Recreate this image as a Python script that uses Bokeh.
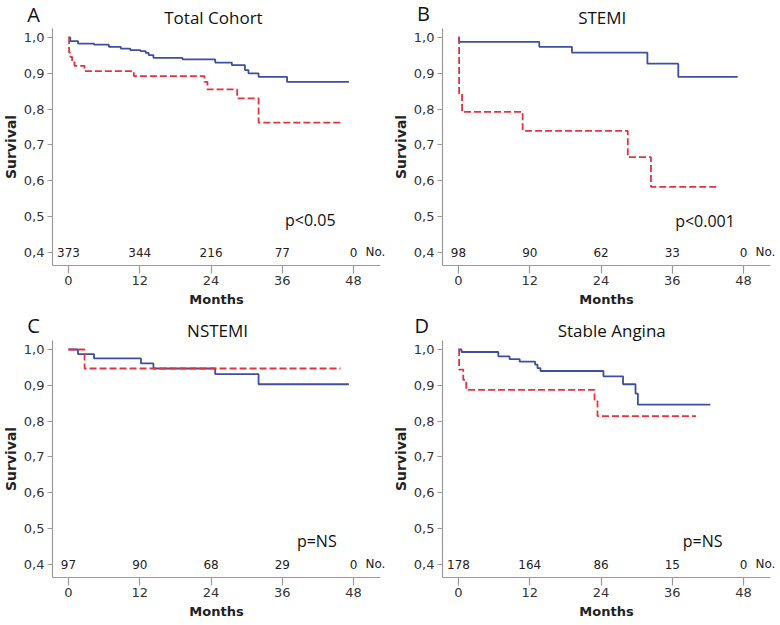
from bokeh.plotting import figure
from bokeh.layouts import gridplot
from bokeh.models import Label
from bokeh.core.properties import value
from bokeh.embed import file_html
from bokeh.resources import INLINE

# ---- data ----
month_ticks = [0, 12, 24, 36, 48]
month_tick_labels = ["0", "12", "24", "36", "48"]
surv_ticks = [0.4, 0.5, 0.6, 0.7, 0.8, 0.9, 1.0]
surv_tick_labels = ["0,4", "0,5", "0,6", "0,7", "0,8", "0,9", "1,0"]

# Panel A: Total Cohort
a_blue_t = [0, 0.3, 1.6, 4.3, 6.8, 8.8, 10.4, 12.1, 13.0, 13.5, 14.3, 19.2, 24.7, 27.5, 29.7, 30.3, 32.0, 36.8, 47.2]
a_blue_s = [1.0, 0.99, 0.983, 0.98, 0.974, 0.969, 0.965, 0.962, 0.957, 0.951, 0.943, 0.939, 0.93, 0.923, 0.909, 0.9, 0.89, 0.876, 0.876]
a_red_t = [0, 0.1, 0.3, 0.6, 1.0, 2.7, 11.0, 22.9, 23.4, 28.4, 32.0, 45.8]
a_red_s = [1.0, 0.958, 0.946, 0.933, 0.921, 0.906, 0.892, 0.876, 0.855, 0.83, 0.762, 0.762]
a_risk = [373, 344, 216, 77, 0]

# Panel B: STEMI
b_blue_t = [0, 0.1, 13.6, 19.1, 31.8, 37.0, 47.0]
b_blue_s = [1.0, 0.988, 0.974, 0.958, 0.927, 0.89, 0.89]
b_red_t = [0, 0.1, 0.6, 10.8, 28.5, 32.4, 43.6]
b_red_s = [1.0, 0.843, 0.792, 0.739, 0.666, 0.583, 0.583]
b_risk = [98, 90, 62, 33, 0]

# Panel C: NSTEMI
c_blue_t = [0, 1.6, 4.3, 12.2, 14.3, 24.7, 32.0, 47.2]
c_blue_s = [1.0, 0.987, 0.975, 0.961, 0.947, 0.931, 0.903, 0.903]
c_red_t = [0, 2.7, 45.8]
c_red_s = [1.0, 0.947, 0.947]
c_risk = [97, 90, 68, 29, 0]

# Panel D: Stable Angina
d_blue_t = [0, 0.5, 6.7, 8.6, 10.3, 12.9, 13.3, 13.8, 24.4, 27.7, 29.8, 30.2, 42.4]
d_blue_s = [1.0, 0.993, 0.981, 0.973, 0.966, 0.958, 0.948, 0.94, 0.925, 0.903, 0.877, 0.846, 0.846]
d_red_t = [0, 0.1, 0.8, 1.3, 22.9, 23.4, 40.0]
d_red_s = [1.0, 0.944, 0.915, 0.887, 0.86, 0.814, 0.814]
d_risk = [178, 164, 86, 15, 0]

BLUE = "#3E4FA3"
RED = "#E5323F"
AXIS = "#9a9a9a"
TXT = "#222222"

X_AXIS_AT = 0.364     # survival level where the months axis sits
Y_AXIS_AT = -2.7      # month where the survival axis sits
X_END = 52.5
Y_END = 1.025


def make_panel(letter, title, bt, bs, rt, rs, risk, ptext, px, py, tx, ty, lx, ly):
    p = figure(width=390, height=312, x_range=(-11.45, 54.21), y_range=(0.2318, 1.1034),
               output_backend="svg", toolbar_location=None, title=None,
               min_border_left=0, min_border_right=0, min_border_top=0, min_border_bottom=0)
    p.outline_line_color = None
    p.xgrid.grid_line_color = None
    p.ygrid.grid_line_color = None

    p.xaxis.ticker = month_ticks
    p.xaxis.major_label_overrides = dict(zip(month_ticks, month_tick_labels))
    p.yaxis.ticker = surv_ticks
    p.yaxis.major_label_overrides = dict(zip(surv_ticks, surv_tick_labels))
    p.xaxis.fixed_location = X_AXIS_AT
    p.yaxis.fixed_location = Y_AXIS_AT
    p.xaxis.bounds = (Y_AXIS_AT, X_END)
    p.yaxis.bounds = (X_AXIS_AT, Y_END)
    p.xaxis.axis_label = "Months"
    p.yaxis.axis_label = "Survival"
    for ax in (p.xaxis[0], p.yaxis[0]):
        ax.axis_line_color = AXIS
        ax.axis_line_width = 1.2
        ax.major_tick_line_color = AXIS
        ax.major_tick_line_width = 1.2
        ax.minor_tick_line_color = None
        ax.major_tick_in = 0
        ax.major_label_text_font = "DejaVu Sans"
        ax.major_label_text_font_size = "13px"
        ax.major_label_text_color = "#333333"
        ax.axis_label_text_font = "DejaVu Sans"
        ax.axis_label_text_font_style = "bold"
        ax.axis_label_text_color = TXT
    p.xaxis.axis_label_text_font_size = "13px"
    p.yaxis.axis_label_text_font_size = "14px"
    p.xaxis.major_tick_out = 8
    p.xaxis.major_label_standoff = 3
    p.xaxis.axis_label_standoff = 3
    p.yaxis.major_tick_out = 5
    p.yaxis.major_label_standoff = 3
    p.yaxis.axis_label_standoff = 2

    p.step(x=bt, y=bs, mode="after", line_color=BLUE, line_width=1.8)
    p.step(x=rt, y=rs, mode="after", line_color=RED, line_width=1.8, line_dash="7 3")

    p.text(x=month_ticks, y=[surv_ticks[0]] * len(month_ticks), text=[str(n) for n in risk],
           text_align="center", text_baseline="middle", text_font=value("DejaVu Sans"),
           text_font_size="12px", text_color=TXT)
    p.add_layout(Label(x=50.0, y=0.4, text="No.", text_align="left", text_baseline="middle",
                       text_font="DejaVu Sans", text_font_size="12px", text_color=TXT))
    p.add_layout(Label(x=px, y=py, text=ptext, text_align="center", text_baseline="middle",
                       text_font="Open Sans", text_font_size="16px", text_color="#111111"))
    p.add_layout(Label(x=tx, y=ty, text=title, text_align="center", text_baseline="middle",
                       text_font="Open Sans", text_font_size="17px", text_color="#111111"))
    p.add_layout(Label(x=lx, y=ly, text=letter, text_align="center", text_baseline="middle",
                       text_font="Open Sans", text_font_size="20px", text_color="#111111"))
    return p


pA = make_panel("A", "Total Cohort", a_blue_t, a_blue_s, a_red_t, a_red_s, a_risk,
                "p<0.05", 40.7, 0.489, 24.4, 1.0559, -5.9, 1.0642)
pB = make_panel("B", "STEMI", b_blue_t, b_blue_s, b_red_t, b_red_s, b_risk,
                "p<0.001", 41.5, 0.487, 24.2, 1.0559, -5.9, 1.0670)
pC = make_panel("C", "NSTEMI", c_blue_t, c_blue_s, c_red_t, c_red_s, c_risk,
                "p=NS", 41.8, 0.465, 25.1, 1.0531, -5.9, 1.0660)
pD = make_panel("D", "Stable Angina", d_blue_t, d_blue_s, d_red_t, d_red_s, d_risk,
                "p=NS", 41.1, 0.465, 25.8, 1.0531, -6.2, 1.0660)

grid = gridplot([[pA, pB], [pC, pD]], toolbar_location=None)

open("out.html", "w").write(file_html(grid, INLINE))
